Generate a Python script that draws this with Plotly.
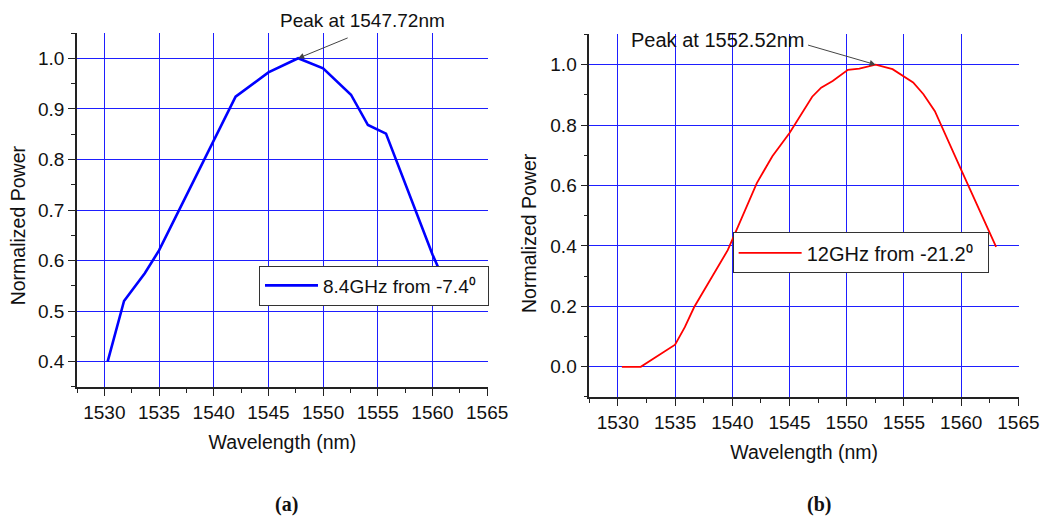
import plotly.graph_objects as go

# ---- data ----
left_x = [1530.3, 1531.8, 1533.7, 1535.0, 1542.0, 1545.0, 1547.72, 1550.0, 1552.55, 1554.1, 1555.75, 1560.0, 1560.7]
left_y = [0.40, 0.52, 0.575, 0.62, 0.924, 0.972, 1.0, 0.98, 0.928, 0.868, 0.851, 0.612, 0.578]
left_name = "8.4GHz from -7.4\u2070"

right_x = [1530.35, 1532.0, 1535.0, 1535.85, 1536.66, 1538.05, 1539.6, 1540.05, 1542.14, 1543.5, 1545.0,
           1546.98, 1547.76, 1548.77, 1550.1, 1551.1, 1552.52, 1554.0, 1555.8, 1556.7, 1557.7, 1560.0, 1563.05]
right_y = [0.0, 0.0, 0.073, 0.131, 0.197, 0.286, 0.386, 0.425, 0.608, 0.697, 0.774,
           0.894, 0.924, 0.946, 0.983, 0.987, 1.0, 0.985, 0.941, 0.902, 0.846, 0.652, 0.397]
right_name = "12GHz from -21.2\u2070"

peak_left = (1547.72, 1.0)
peak_right = (1552.52, 1.0)
peak_left_text = "Peak at 1547.72nm"
peak_right_text = "Peak at 1552.52nm"

x_title = "Wavelength (nm)"
y_title = "Normalized Power"
captions = ["(a)", "(b)"]

FONT = "Liberation Sans, Arial, sans-serif"
SERIF = "Liberation Serif, Times New Roman, serif"
GRID = "rgb(30,30,255)"
AX = "#222222"

fig = go.Figure()
fig.add_trace(go.Scatter(x=left_x, y=left_y, mode="lines", name=left_name,
                         line=dict(color="#0000ff", width=2.6), xaxis="x", yaxis="y",
                         legend="legend"))
fig.add_trace(go.Scatter(x=right_x, y=right_y, mode="lines", name=right_name,
                         line=dict(color="#ff0000", width=1.8), xaxis="x2", yaxis="y2",
                         legend="legend2"))

common_x = dict(range=[1527.5, 1565.05], dtick=5, tick0=1530, showgrid=True, gridcolor=GRID, gridwidth=1,
                zeroline=False, showline=True, linecolor=AX, linewidth=1.5, ticks="outside", ticklen=7,
                tickcolor=AX, tickwidth=1.2, tickfont=dict(family=FONT, size=19, color="#111"),
                minor=dict(dtick=2.5, ticklen=4, tickcolor=AX, showgrid=False, ticks="outside"),
                title=dict(text=x_title, font=dict(family=FONT, size=19.5, color="#111"), standoff=14))
common_y = dict(showgrid=True, gridcolor=GRID, gridwidth=1, zeroline=False, showline=True,
                linecolor=AX, linewidth=1.5, ticks="outside", ticklen=7, tickcolor=AX, tickwidth=1.2,
                tickfont=dict(family=FONT, size=19, color="#111"), tickformat=".1f")

fig.update_layout(
    width=1063, height=517,
    margin=dict(l=77, r=44, t=33, b=120),
    paper_bgcolor="white", plot_bgcolor="white",
    xaxis=dict(domain=[0, 0.436], anchor="y", **common_x),
    yaxis=dict(domain=[0.0275, 1.0], anchor="x", range=[0.35, 1.05], dtick=0.1, tick0=0,
               minor=dict(dtick=0.05, ticklen=4, tickcolor=AX, showgrid=False, ticks="outside"),
               **common_y),
    xaxis2=dict(domain=[0.5438, 1.0], anchor="y2", **common_x),
    yaxis2=dict(domain=[0.0, 0.996], anchor="x2", range=[-0.1, 1.1], dtick=0.2, tick0=0,
                minor=dict(dtick=0.1, ticklen=4, tickcolor=AX, showgrid=False, ticks="outside"),
                **common_y),
    legend=dict(x=0.1932, y=0.3063, xanchor="left", yanchor="middle", bgcolor="white",
                bordercolor="#333", borderwidth=1, itemwidth=53, orientation="h", entrywidth=160,
                font=dict(family=FONT, size=19, color="#111")),
    legend2=dict(x=0.696, y=0.396, xanchor="left", yanchor="middle", bgcolor="white",
                 bordercolor="#333", borderwidth=1, itemwidth=63, orientation="h", entrywidth=176,
                 font=dict(family=FONT, size=20, color="#111")),
    showlegend=True,
)

annos = []
# peak labels
annos.append(dict(x=0.3036, y=1.0357, xref="paper", yref="paper", xanchor="center", yanchor="middle",
                  text=peak_left_text, showarrow=False, font=dict(family=FONT, size=19, color="#111")))
annos.append(dict(x=peak_left[0], y=peak_left[1], xref="x", yref="y", text="", showarrow=True,
                  ax=51, ay=-21, arrowhead=2, arrowsize=1.2, arrowwidth=1, arrowcolor="#444"))
annos.append(dict(x=1538.71, y=1.082, xref="x2", yref="y2", xanchor="center", yanchor="middle",
                  text=peak_right_text, showarrow=False, font=dict(family=FONT, size=20, color="#111")))
annos.append(dict(x=peak_right[0], y=peak_right[1], xref="x2", yref="y2", text="", showarrow=True,
                  ax=-69, ay=-20, arrowhead=2, arrowsize=1.2, arrowwidth=1, arrowcolor="#444"))
# y-axis titles
annos.append(dict(x=-0.0623, y=0.4725, xref="paper", yref="paper", xanchor="center", yanchor="middle",
                  text=y_title, textangle=-90, showarrow=False,
                  font=dict(family=FONT, size=19.5, color="#111")))
annos.append(dict(x=0.4798, y=0.4505, xref="paper", yref="paper", xanchor="center", yanchor="middle",
                  text=y_title, textangle=-90, showarrow=False,
                  font=dict(family=FONT, size=19.5, color="#111")))
# captions
annos.append(dict(x=0.2219, y=-0.2967, xref="paper", yref="paper", xanchor="center", yanchor="middle",
                  text="<b>" + captions[0] + "</b>", showarrow=False,
                  font=dict(family=SERIF, size=20, color="#111")))
annos.append(dict(x=0.7877, y=-0.2967, xref="paper", yref="paper", xanchor="center", yanchor="middle",
                  text="<b>" + captions[1] + "</b>", showarrow=False,
                  font=dict(family=SERIF, size=20, color="#111")))
fig.update_layout(annotations=annos)

fig.write_html("out.html")
